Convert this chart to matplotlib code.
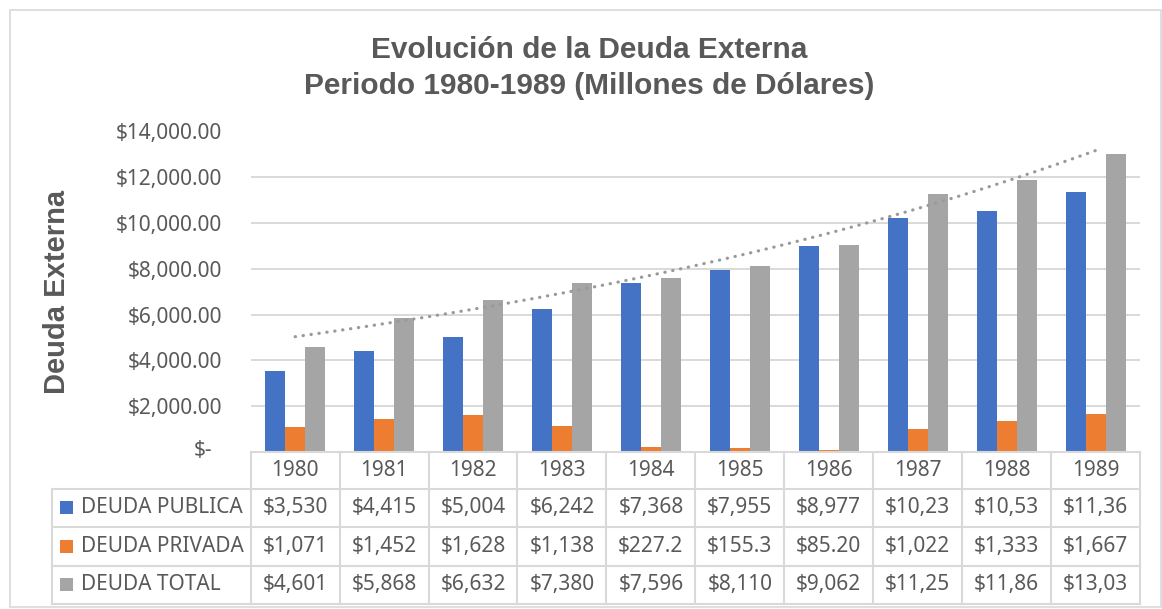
import numpy as np
import matplotlib
matplotlib.use("Agg")
import matplotlib.pyplot as plt
import matplotlib.transforms as mtransforms
from matplotlib.lines import Line2D
from matplotlib.patches import Rectangle

# ---------------- data ----------------
years = ['1980', '1981', '1982', '1983', '1984', '1985', '1986', '1987', '1988', '1989']
deuda_publica = [3530, 4415, 5004, 6242, 7368, 7955, 8977, 10230, 10530, 11360]
deuda_privada = [1071, 1452, 1628, 1138, 227.2, 155.3, 85.2, 1022, 1333, 1667]
deuda_total = [4601, 5868, 6632, 7380, 7596, 8110, 9062, 11250, 11860, 13030]

series_names = ['DEUDA PUBLICA', 'DEUDA PRIVADA', 'DEUDA TOTAL']
publica_labels = ['$3,530', '$4,415', '$5,004', '$6,242', '$7,368', '$7,955', '$8,977', '$10,23', '$10,53', '$11,36']
privada_labels = ['$1,071', '$1,452', '$1,628', '$1,138', '$227.2', '$155.3', '$85.20', '$1,022', '$1,333', '$1,667']
total_labels = ['$4,601', '$5,868', '$6,632', '$7,380', '$7,596', '$8,110', '$9,062', '$11,25', '$11,86', '$13,03']
y_ticks = [0, 2000, 4000, 6000, 8000, 10000, 12000, 14000]
y_tick_labels = ['$-', '$2,000.00', '$4,000.00', '$6,000.00', '$8,000.00', '$10,000.00', '$12,000.00', '$14,000.00']

title_line1 = 'Evolución de la Deuda Externa'
title_line2 = 'Periodo 1980-1989 (Millones de Dólares)'
y_title = 'Deuda Externa'

# ---------------- style ----------------
colors = ['#4472C4', '#ED7D31', '#A5A5A5']
text_col = '#595959'
grid_col = '#D9D9D9'
tfont = 'Noto Sans'
bfont = 'Liberation Sans'

W, H = 1162, 609
fig = plt.figure(figsize=(W / 100, H / 100), dpi=100)
fig.patch.set_facecolor('white')

px = mtransforms.Affine2D().scale(1.0 / W, -1.0 / H).translate(0, 1) + fig.transFigure

# plot area
x_left, x_right = 250.7, 1140.0
y_top, y_bot = 131.5, 452.0
ax = fig.add_axes([x_left / W, 1 - y_bot / H, (x_right - x_left) / W, (y_bot - y_top) / H])
ax.set_xlim(-0.5, len(years) - 0.5)
ax.set_ylim(0, 14000)

x = np.arange(len(years))
bw = 0.225
ax.bar(x - bw, deuda_publica, bw, color=colors[0], zorder=2)
ax.bar(x, deuda_privada, bw, color=colors[1], zorder=2)
ax.bar(x + bw, deuda_total, bw, color=colors[2], zorder=2)

# exponential trendline on total
coef = np.polyfit(x, np.log(deuda_total), 1)
xt = np.linspace(0, len(years) - 1, 300)
yt = np.exp(np.polyval(coef, xt))
ax.plot(xt, yt, color='#9A9A9A', lw=2.3, linestyle=(0, (0.1, 2.4)),
        dash_capstyle='round', zorder=3)

ax.set_yticks(y_ticks)
ax.set_yticklabels(['' if v == 0 else l for v, l in zip(y_ticks, y_tick_labels)],
                   fontsize=15, family=tfont, color=text_col)
ax.tick_params(axis='y', length=0, pad=20.5)
ax.set_xticks([])
ax.yaxis.grid(True, color=grid_col, lw=1.4)
ax.set_axisbelow(True)
for s in ax.spines.values():
    s.set_visible(False)

fig.text(212 / W, 1 - 450 / H, y_tick_labels[0], ha='right', va='center',
         fontsize=15, family=tfont, color=text_col)

# titles
fig.text(589 / W, 1 - 50 / H, title_line1, ha='center', va='center', fontsize=21.5,
         fontweight='bold', family=bfont, color=text_col)
fig.text(589 / W, 1 - 86 / H, title_line2, ha='center', va='center', fontsize=21.5,
         fontweight='bold', family=bfont, color=text_col)
fig.text(57 / W, 1 - 292 / H, y_title, ha='center', va='center', rotation=90, fontsize=21,
         fontweight='bold', family=bfont, color=text_col)

# ---------------- data table ----------------
trans = mtransforms.blended_transform_factory(ax.transData, px)
row_lines = [452, 488.5, 527, 566, 603.5]
tab_left = 52
lw_tab = 1.5

fig.add_artist(Line2D([-0.5, len(years) - 0.5], [row_lines[0]] * 2, transform=trans,
                      color=grid_col, lw=lw_tab))
for yy in row_lines[1:]:
    fig.add_artist(Line2D([tab_left, x_right], [yy, yy], transform=px, color=grid_col, lw=lw_tab))
for k in range(len(years) + 1):
    fig.add_artist(Line2D([k - 0.5, k - 0.5], [row_lines[0], row_lines[-1]], transform=trans,
                          color=grid_col, lw=lw_tab))
fig.add_artist(Line2D([tab_left, tab_left], [row_lines[1], row_lines[-1]], transform=px,
                      color=grid_col, lw=lw_tab))

for i, yr in enumerate(years):
    fig.text(i, (row_lines[0] + row_lines[1]) / 2, yr, transform=trans, ha='center', va='center',
             fontsize=15, family=tfont, color=text_col)

row_labels = [publica_labels, privada_labels, total_labels]
for r, labs in enumerate(row_labels):
    yc = (row_lines[r + 1] + row_lines[r + 2]) / 2
    for i, lab in enumerate(labs):
        fig.text(i, yc, lab, transform=trans, ha='center', va='center',
                 fontsize=15, family=tfont, color=text_col)
    fig.add_artist(Rectangle((60, yc - 6.5), 13, 13, transform=px, facecolor=colors[r],
                             edgecolor='none'))
    fig.text(81, yc, series_names[r], transform=px, ha='left', va='center',
             fontsize=15, family=tfont, color=text_col)

# outer chart border
fig.add_artist(Rectangle((10, 10), 1151, 597, transform=px, facecolor='none',
                         edgecolor=grid_col, lw=1.2))

fig.savefig('out.png', dpi=100, facecolor='white')
